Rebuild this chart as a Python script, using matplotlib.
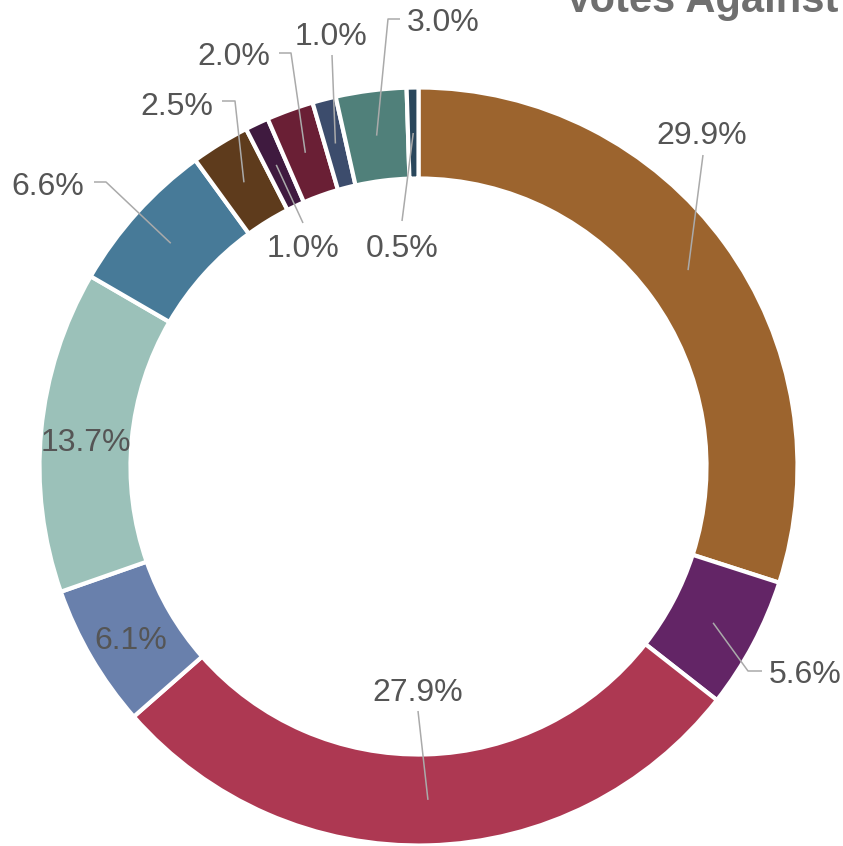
import numpy as np
import matplotlib.pyplot as plt

# figure size in pixels
W, H = 843, 846

title = "Votes Against"
values = [29.9, 5.6, 27.9, 6.1, 13.7, 6.6, 2.5, 1.0, 2.0, 1.0, 3.0, 0.5]
colors = ["#9C642E", "#632566", "#AD3852", "#6980AC", "#9BC1B9", "#477A98",
          "#5E3B1C", "#3F1A3F", "#6A1F35", "#3C4C6C", "#50807A", "#2A475C"]

# label layout in image pixels: text (x centre, baseline), elbow point, line end
label_pos = [(702, 144), (805, 683), (418, 701), (131, 649), (86, 451), (48, 195),
             (177, 115), (303, 257), (234, 65), (331, 45), (443, 31), (402, 257)]
label_elbow = [None, (748, 671), None, None, None, (106, 182),
               (235, 101), None, (291, 53), None, (388, 19), None]
label_end = [(703, 155), (762, 671), (418, 711), None, None, (94, 182),
             (222, 101), (303, 223), (279, 53), (332, 55), (400, 19), (402, 221)]

cx, cy = 418.5, H - 466.5
r_out, ring = 379, 91

fig = plt.figure(figsize=(W / 100, H / 100), dpi=100)
ax = fig.add_axes([0, 0, 1, 1])

ax.pie(values,
       colors=colors,
       startangle=90,
       counterclock=False,
       radius=r_out,
       center=(cx, cy),
       wedgeprops=dict(width=ring, edgecolor="white", linewidth=3))

ax.set_xlim(0, W)
ax.set_ylim(0, H)
ax.set_aspect("equal")
ax.axis("off")

#######################################################################################################################
## Labels with leader lines
#######################################################################################################################
total = sum(values)
cum = np.cumsum([0] + values[:-1])
r_mid = r_out - ring / 2

for i, v in enumerate(values):
    theta = np.deg2rad(90 - 360 * (cum[i] + v / 2) / total)
    ax_x = cx + r_mid * np.cos(theta)
    ax_y = cy + r_mid * np.sin(theta)

    if label_end[i] is not None:
        xs, ys = [ax_x], [ax_y]
        if label_elbow[i] is not None:
            xs.append(label_elbow[i][0])
            ys.append(H - label_elbow[i][1])
        xs.append(label_end[i][0])
        ys.append(H - label_end[i][1])
        ax.plot(xs, ys, color="#AAAAAA", linewidth=1.1, solid_capstyle="butt")

    tx, ty = label_pos[i]
    ax.text(tx, H - ty, f"{v:.1f}%",
            ha="center", va="baseline",
            fontsize=23, color="#555555", family="Liberation Sans")

ax.text(838, H - 12, title,
        ha="right", va="baseline",
        fontsize=30, fontweight="bold", color="#6F6F6F", family="Liberation Sans")

plt.savefig("out.png", dpi=100, facecolor="w")
